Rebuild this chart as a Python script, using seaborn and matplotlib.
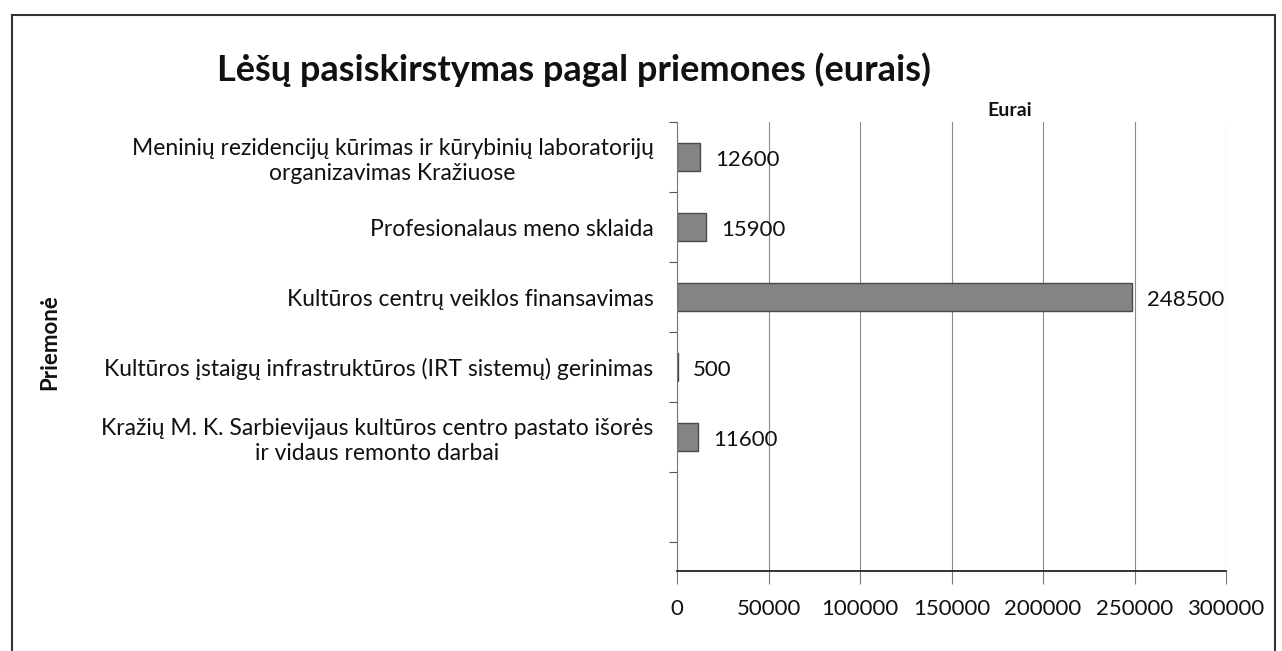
import matplotlib
matplotlib.use("Agg")
import matplotlib.pyplot as plt
import seaborn as sns
import pandas as pd
from matplotlib.patches import Rectangle

categories = [
    "Meninių rezidencijų kūrimas ir kūrybinių laboratorijų\norganizavimas Kražiuose",
    "Profesionalaus meno sklaida",
    "Kultūros centrų veiklos finansavimas",
    "Kultūros įstaigų infrastruktūros (IRT sistemų) gerinimas",
    "Kražių M. K. Sarbievijaus kultūros centro pastato išorės\nir vidaus remonto darbai",
]
values = [12600, 15900, 248500, 500, 11600]
x_ticks = [0, 50000, 100000, 150000, 200000, 250000, 300000]
title = "Lėšų pasiskirstymas pagal priemones (eurais)"
x_label = "Eurai"
y_label = "Priemonė"

sns.set_theme(style="white")
plt.rcParams['font.family'] = ['Lato', 'DejaVu Sans']

df = pd.DataFrame({"cat": categories, "val": values})

fig = plt.figure(figsize=(12.82, 6.51), dpi=100)
ax = fig.add_axes([677/1282, 1-571/651, (1226-677)/1282, (571-122)/651])

sns.barplot(data=df, y="cat", x="val", orient="h", ax=ax, color="#848484",
            width=0.4, edgecolor="#4a4a4a", linewidth=1.0, saturation=1)

ax.set_xlim(0, 300000)
ax.set_ylim(5.91, -0.5)
ax.set_xticks(x_ticks)
ax.set_xticklabels([str(t) for t in x_ticks], fontsize=16, color="#111111")
ax.tick_params(axis="x", which="major", bottom=True, length=9, width=0.8,
               color="#777777", direction="out", pad=11)
ax.set_yticks(range(len(categories)))
ax.set_yticklabels(categories, fontsize=16.5, color="#111111", multialignment="center",
                   linespacing=1.25)
ax.tick_params(axis="y", which="major", left=False, length=0, pad=17)
ax.set_yticks([i - 0.5 for i in range(7)], minor=True)
ax.tick_params(axis="y", which="minor", left=True, length=6, width=0.8, color="#555555",
               direction="out")

ax.grid(axis="x", color="#8a8a8a", linewidth=0.8, linestyle="-")
ax.set_axisbelow(True)
for s in ["top", "right"]:
    ax.spines[s].set_visible(False)
ax.spines["left"].set_color("#777777")
ax.spines["left"].set_linewidth(0.8)
ax.spines["bottom"].set_color("#222222")
ax.spines["bottom"].set_linewidth(1.3)

for i, v in enumerate(values):
    ax.annotate(str(v), xy=(v, i), xytext=(11, -2), textcoords="offset points",
                va="center", ha="left", fontsize=16, color="#111111")

ax.set_xlabel("")
ax.set_ylabel("")
fig.text(1010/1282, 1-110/651, x_label, ha="center", va="center", fontsize=14,
         fontweight="bold", color="#111111")
fig.text(50/1282, 1-342/651, y_label, ha="center", va="center", rotation=90, fontsize=16,
         fontweight="bold", color="#111111")
fig.text(574/1282, 1-70/651, title, ha="center", va="center", fontsize=26,
         fontweight="bold", color="#111111")

fig.patches.append(Rectangle((12/1282, -0.01), (1275-12)/1282, 1-15/651 + 0.01,
                             transform=fig.transFigure, fill=False,
                             edgecolor="#333333", linewidth=1.5))

fig.savefig("out.png", dpi=100)
